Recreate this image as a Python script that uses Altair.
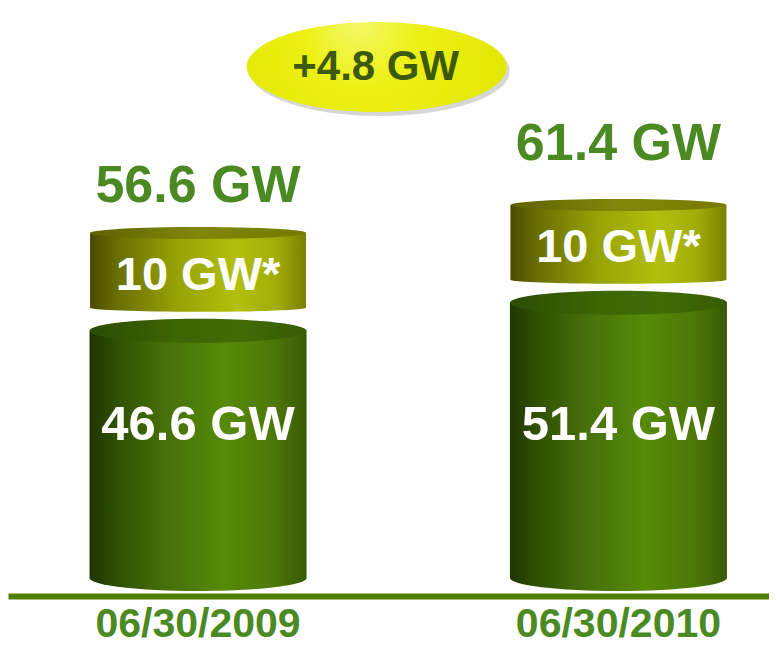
import altair as alt
import pandas as pd

# ---- data ----
dates = ["06/30/2009", "06/30/2010"]
positions = [0, 1]
base_gw = [46.6, 51.4]
extra_gw = [10, 10]
total_gw = [56.6, 61.4]
base_labels = ["46.6 GW", "51.4 GW"]
extra_labels = ["10 GW*", "10 GW*"]
total_labels = ["56.6 GW", "61.4 GW"]
delta_gw = round(total_gw[1] - total_gw[0], 1)
delta_label = f"+{delta_gw} GW"

df = pd.DataFrame({
    "pos": positions,
    "date": dates,
    "base": base_gw,
    "extra": extra_gw,
    "total": total_gw,
    "zero": [0, 0],
    "base_label": base_labels,
    "extra_label": extra_labels,
    "total_label": total_labels,
})
badge_df = pd.DataFrame({
    "pos": [sum(positions) / len(positions)],
    "top": [max(total_gw)],
    "label": [delta_label],
})

# ---- styling ----
W, H = 761, 638
GREEN_TXT = "#4b8a23"
FONT = "Liberation Sans"

xs = alt.Scale(domain=[-0.44014, 1.34624], nice=False, zero=False)
ys = alt.Scale(domain=[-9.418, 99.829], nice=False, zero=False)
xaxis = alt.Axis(orient="bottom", offset=-50, domain=True, domainColor="#4f7d05",
                 domainWidth=6, ticks=False, labels=False, grid=False, title=None)


def X():
    return alt.X("pos:Q", scale=xs, axis=xaxis)


def Y(field):
    return alt.Y(f"{field}:Q", scale=ys, axis=None)


def ell(ratio):
    r = f"{ratio:.4f}"
    return f"M-1,0A1,{r},0,1,1,1,0A1,{r},0,1,1,-1,0Z"


def lin(stops):
    return alt.LinearGradient(gradient="linear", x1=0, y1=0, x2=1, y2=0,
                              stops=[alt.GradientStop(color=c, offset=o) for o, c in stops])


green_body = lin([(0, "#1f3500"), (0.12, "#2f4f02"), (0.35, "#46700a"),
                  (0.62, "#568a08"), (0.85, "#4c7806"), (1, "#385a03")])
green_top = lin([(0, "#2c4c02"), (0.4, "#3c6504"), (0.7, "#406b05"), (1, "#365c03")])
yellow_body = lin([(0, "#4a4b00"), (0.12, "#686d01"), (0.4, "#97a205"),
                   (0.68, "#b2bf0c"), (0.86, "#a3ad08"), (1, "#7b8000")])
yellow_top = lin([(0, "#5f6200"), (0.5, "#80870a"), (1, "#767b00")])
badge_fill = alt.RadialGradient(
    gradient="radial", x1=0.42, y1=0.3, r1=0, x2=0.5, y2=0.5, r2=0.72,
    stops=[alt.GradientStop(color="#f6f870", offset=0),
           alt.GradientStop(color="#ecf114", offset=0.3),
           alt.GradientStop(color="#e1e600", offset=0.78),
           alt.GradientStop(color="#c2c600", offset=1)])

BW = 217
base = alt.Chart(df)

green_bottom = base.mark_point(shape=ell(26 / BW), size=BW * BW, filled=True, fill=green_body,
                               opacity=1, strokeWidth=0, yOffset=-13).encode(x=X(), y=Y("zero"))
green_bar = base.mark_bar(size=BW, fill=green_body, yOffset=12, y2Offset=-13).encode(
    x=X(), y=Y("base"), y2="zero:Q")
green_cap = base.mark_point(shape=ell(24 / BW), size=BW * BW, filled=True, fill=green_top,
                            opacity=1, strokeWidth=0, yOffset=12).encode(x=X(), y=Y("base"))

YW = 216
yellow_bottom = base.mark_point(shape=ell(8 / YW), size=YW * YW, filled=True, fill=yellow_body,
                                opacity=1, strokeWidth=0, yOffset=-11).encode(x=X(), y=Y("base"))
yellow_bar = base.mark_bar(size=YW, fill=yellow_body, yOffset=-27.5, y2Offset=-11).encode(
    x=X(), y=Y("total"), y2="base:Q")
yellow_cap = base.mark_point(shape=ell(12 / YW), size=YW * YW, filled=True, fill=yellow_top,
                             opacity=1, strokeWidth=0, yOffset=-27.5).encode(x=X(), y=Y("total"))

extra_text = base.mark_text(font=FONT, fontWeight="bold", fontSize=47, color="white",
                            baseline="alphabetic", dy=29.5).encode(
    x=X(), y=Y("total"), text="extra_label:N")
base_text = base.mark_text(font=FONT, fontWeight="bold", fontSize=49, color="white",
                           baseline="alphabetic", dy=-151).encode(
    x=X(), y=Y("zero"), text="base_label:N")
total_text_0 = base.transform_filter("datum.pos == 0").mark_text(
    font=FONT, fontWeight="bold", fontSize=52, color=GREEN_TXT, baseline="alphabetic",
    dy=-58.5).encode(x=X(), y=Y("total"), text="total_label:N")
total_text_1 = base.transform_filter("datum.pos == 1").mark_text(
    font=FONT, fontWeight="bold", fontSize=52, color=GREEN_TXT, baseline="alphabetic",
    dy=-72.4).encode(x=X(), y=Y("total"), text="total_label:N")
date_text = base.mark_text(font=FONT, fontWeight="bold", fontSize=41, color=GREEN_TXT,
                           baseline="alphabetic", dy=46).encode(
    x=X(), y=Y("zero"), text="date:N")

BDW, BDH = 260, 90
bbase = alt.Chart(badge_df)
badge_shadow = bbase.mark_point(shape=ell(BDH / BDW), size=BDW * BDW, filled=True,
                                color="#8a8a8a", opacity=0.35, strokeWidth=0,
                                xOffset=-28.5, yOffset=-161.4).encode(x=X(), y=Y("top"))
badge = bbase.mark_point(shape=ell(BDH / BDW), size=BDW * BDW, filled=True, fill=badge_fill,
                         opacity=1, strokeWidth=0, xOffset=-31.5, yOffset=-165.4).encode(
    x=X(), y=Y("top"))
badge_text = bbase.mark_text(font=FONT, fontWeight="bold", fontSize=42, color="#3d5a0b",
                             baseline="alphabetic", dx=-32.5, dy=-152.4).encode(
    x=X(), y=Y("top"), text="label:N")

chart = alt.layer(
    green_bottom, green_bar, green_cap,
    yellow_bottom, yellow_bar, yellow_cap,
    extra_text, base_text, total_text_0, total_text_1, date_text,
    badge_shadow, badge, badge_text,
).properties(
    width=W, height=H, padding=0, autosize=alt.AutoSizeParams(type="none"),
    background="white",
).configure_view(stroke=None)

chart.save("out.html", embed_options={"renderer": "svg", "actions": False})
